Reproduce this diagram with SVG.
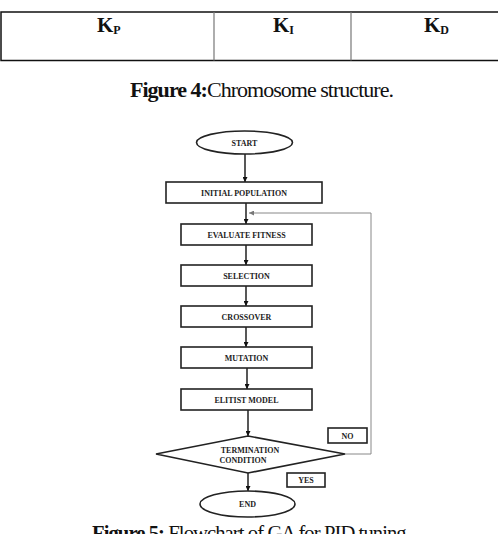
<svg xmlns="http://www.w3.org/2000/svg" width="498" height="534" viewBox="0 0 498 534">
  <defs>
    <marker id="arrow" viewBox="0 0 10 10" refX="10" refY="5" markerWidth="5" markerHeight="5" orient="auto" markerUnits="userSpaceOnUse">
      <path d="M0,0 L10,5 L0,10 z" fill="#111"/>
    </marker>
    <marker id="arrowGrey" viewBox="0 0 10 10" refX="10" refY="5" markerWidth="5" markerHeight="5" orient="auto" markerUnits="userSpaceOnUse">
      <path d="M0,0 L10,5 L0,10 z" fill="#777"/>
    </marker>
    <style>
      .cell { fill: none; stroke: #111; stroke-width: 1.5; }
      .div { stroke: #777; stroke-width: 1.2; }
      .k { font-family: "Liberation Serif", serif; font-weight: bold; font-size: 21px; fill: #111; }
      .sub { font-size: 12px; }
      .cap { font-family: "Liberation Serif", serif; font-size: 20px; fill: #111; letter-spacing: -0.9px; }
      .cap .b { font-weight: bold; }
      .box { fill: #fff; stroke: #222; stroke-width: 1.6; }
      .lbl { font-family: "Liberation Serif", serif; font-weight: bold; font-size: 8px; fill: #222; text-anchor: middle; }
      .flow { stroke: #111; stroke-width: 1.4; fill: none; }
      .loop { stroke: #888; stroke-width: 1; fill: none; }
    </style>
  </defs>

  <!-- chromosome table -->
  <g id="chromosome">
    <rect class="cell" x="1" y="12" width="510" height="48.5"/>
    <line class="div" x1="214" y1="12" x2="214" y2="60.5"/>
    <line class="div" x1="351" y1="12" x2="351" y2="60.5"/>
    <text class="k" x="97" y="32">K<tspan class="sub" dy="1.5">P</tspan></text>
    <text class="k" x="273" y="32">K<tspan class="sub" dy="1.5">I</tspan></text>
    <text class="k" x="424" y="32">K<tspan class="sub" dy="1.5">D</tspan></text>
  </g>

  <text class="cap" x="130" y="97" textLength="263" lengthAdjust="spacingAndGlyphs"><tspan class="b">Figure 4:</tspan>Chromosome structure.</text>

  <!-- connectors -->
  <g id="connectors">
    <line class="flow" x1="245" y1="154" x2="245" y2="182" marker-end="url(#arrow)"/>
    <line class="flow" x1="246" y1="203" x2="246" y2="224" marker-end="url(#arrow)"/>
    <line class="flow" x1="246" y1="245" x2="246" y2="265" marker-end="url(#arrow)"/>
    <line class="flow" x1="246" y1="286" x2="246" y2="306" marker-end="url(#arrow)"/>
    <line class="flow" x1="246" y1="327" x2="246" y2="347" marker-end="url(#arrow)"/>
    <line class="flow" x1="247" y1="368" x2="247" y2="389" marker-end="url(#arrow)"/>
    <line class="flow" x1="248" y1="410" x2="248" y2="436" marker-end="url(#arrow)"/>
    <line class="flow" x1="248" y1="473" x2="248" y2="491" marker-end="url(#arrow)"/>
    <polyline class="loop" points="345,454 371,454 371,213 249,213" marker-end="url(#arrowGrey)"/>
  </g>

  <g id="start">
    <ellipse class="box" cx="244.5" cy="142.5" rx="48" ry="11.5"/>
    <text class="lbl" x="244.5" y="145.5">START</text>
  </g>
  <g id="initial-population">
    <rect class="box" x="166" y="182" width="156" height="21"/>
    <text class="lbl" x="244" y="195.5">INITIAL POPULATION</text>
  </g>
  <g id="evaluate-fitness">
    <rect class="box" x="181" y="224" width="131" height="21"/>
    <text class="lbl" x="246.5" y="237.5">EVALUATE FITNESS</text>
  </g>
  <g id="selection">
    <rect class="box" x="181" y="265" width="131" height="21"/>
    <text class="lbl" x="246.5" y="278.5">SELECTION</text>
  </g>
  <g id="crossover">
    <rect class="box" x="181" y="306" width="131" height="21"/>
    <text class="lbl" x="246.5" y="319.5">CROSSOVER</text>
  </g>
  <g id="mutation">
    <rect class="box" x="181" y="347" width="131" height="21"/>
    <text class="lbl" x="246.5" y="360.5">MUTATION</text>
  </g>
  <g id="elitist-model">
    <rect class="box" x="181" y="389" width="131" height="21"/>
    <text class="lbl" x="246.5" y="402.5">ELITIST MODEL</text>
  </g>
  <g id="termination">
    <polygon class="box" points="248,436 345,454 248,473 156,454"/>
    <text class="lbl" x="250" y="453">TERMINATION</text>
    <text class="lbl" x="243" y="462.5">CONDITION</text>
  </g>
  <g id="no-label">
    <rect class="box" x="328" y="428" width="39" height="15"/>
    <text class="lbl" x="347.5" y="438.5">NO</text>
  </g>
  <g id="yes-label">
    <rect class="box" x="287" y="473" width="38" height="14"/>
    <text class="lbl" x="306" y="483">YES</text>
  </g>
  <g id="end">
    <ellipse class="box" cx="247.5" cy="504" rx="47.5" ry="13"/>
    <text class="lbl" x="247.5" y="507">END</text>
  </g>

  <!-- caption runs past the lower edge of the canvas -->
  <text class="cap" x="92" y="540" textLength="318" lengthAdjust="spacingAndGlyphs"><tspan class="b">Figure 5:</tspan> Flowchart of GA for PID tuning.</text>
</svg>
